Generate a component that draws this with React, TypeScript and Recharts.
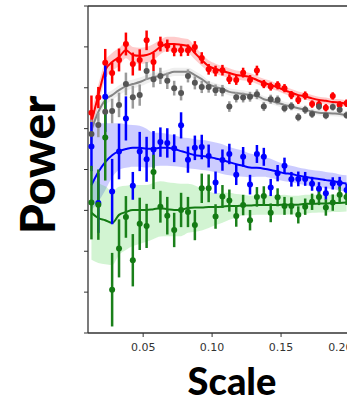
import { ComposedChart, XAxis, YAxis, Line, Area, ErrorBar, ReferenceLine } from "recharts";

const SCALES = [
  0.0125, 0.0175, 0.0225, 0.0275, 0.0325, 0.0375, 0.0425, 0.0475, 0.0525, 0.0575,
  0.0625, 0.0675, 0.0725, 0.0775, 0.0825, 0.0875, 0.0925, 0.0975, 0.1025, 0.1075,
  0.1125, 0.1175, 0.1225, 0.1275, 0.1325, 0.1375, 0.1425, 0.1475, 0.1525, 0.1575,
  0.1625, 0.1675, 0.1725, 0.1775, 0.1825, 0.1875, 0.1925, 0.1975,
];
const X_TICKS = [0.05, 0.1, 0.15, 0.2];
const Y_TICKS = [0, 1, 2, 3, 4, 5, 6, 7, 8];

// red
const redPts = [5.39, 5.76, 6.61, 6.36, 6.68, 7.07, 6.58, 6.68, 7.16, 6.63, 7.07, 7.03, 6.92, 6.92, 6.92, 7.0, 6.73, 6.45, 6.41, 6.43, 6.21, 6.19, 6.37, 6.19, 6.42, 6.09, 6.03, 6.06, 5.99, 5.82, 5.7, 5.81, 5.6, 5.59, 5.51, 5.8, 5.58, 5.62];
const redErr = [0.42, 0.26, 0.34, 0.26, 0.28, 0.28, 0.28, 0.26, 0.24, 0.22, 0.18, 0.15, 0.15, 0.15, 0.14, 0.14, 0.14, 0.13, 0.13, 0.13, 0.12, 0.12, 0.12, 0.12, 0.12, 0.1, 0.1, 0.1, 0.1, 0.1, 0.1, 0.1, 0.09, 0.09, 0.09, 0.09, 0.09, 0.09];
const redFit = [5.16, 5.82, 6.43, 6.63, 6.75, 6.92, 6.8, 6.78, 6.8, 6.87, 7.0, 7.07, 7.07, 7.05, 7.02, 6.85, 6.68, 6.53, 6.46, 6.41, 6.36, 6.31, 6.29, 6.26, 6.19, 6.12, 6.07, 6.01, 5.94, 5.88, 5.82, 5.79, 5.74, 5.7, 5.68, 5.65, 5.64, 5.61];
const redBand = [0.25, 0.25, 0.22, 0.22, 0.22, 0.2, 0.2, 0.2, 0.2, 0.2, 0.18, 0.18, 0.18, 0.17, 0.17, 0.16, 0.15, 0.14, 0.13, 0.12, 0.12, 0.11, 0.11, 0.1, 0.1, 0.1, 0.1, 0.09, 0.09, 0.09, 0.09, 0.08, 0.08, 0.08, 0.08, 0.08, 0.08, 0.08];

// gray
const grayPts = [4.87, 5.09, 5.41, 5.43, 5.58, 6.09, 5.77, 5.82, 6.41, 6.21, 6.29, 6.17, 5.99, 5.87, 6.29, 6.12, 6.02, 6.02, 5.94, 5.93, 5.54, 5.77, 5.76, 5.78, 5.84, 5.54, 5.72, 5.7, 5.5, 5.55, 5.28, 5.46, 5.36, 5.54, 5.32, 5.53, 5.46, 5.33];
const grayErr = [0.35, 0.3, 0.3, 0.3, 0.3, 0.28, 0.28, 0.26, 0.22, 0.2, 0.2, 0.2, 0.18, 0.18, 0.16, 0.16, 0.15, 0.14, 0.14, 0.14, 0.13, 0.13, 0.12, 0.12, 0.12, 0.11, 0.11, 0.11, 0.1, 0.1, 0.1, 0.1, 0.1, 0.09, 0.09, 0.09, 0.09, 0.09];
const grayFit = [4.97, 5.41, 5.7, 5.82, 5.94, 6.04, 6.09, 6.14, 6.21, 6.26, 6.29, 6.34, 6.39, 6.39, 6.39, 6.31, 6.21, 6.09, 6.02, 5.97, 5.9, 5.87, 5.85, 5.82, 5.8, 5.72, 5.68, 5.63, 5.58, 5.54, 5.5, 5.46, 5.42, 5.39, 5.38, 5.37, 5.36, 5.33];
const grayBand = [0.15, 0.14, 0.13, 0.12, 0.12, 0.12, 0.11, 0.11, 0.11, 0.1, 0.1, 0.1, 0.1, 0.1, 0.1, 0.1, 0.1, 0.09, 0.09, 0.09, 0.09, 0.09, 0.09, 0.08, 0.08, 0.08, 0.08, 0.08, 0.08, 0.08, 0.07, 0.07, 0.07, 0.07, 0.07, 0.07, 0.07, 0.07];

// blue
const bluePts = [4.56, 3.18, 5.78, 3.46, 4.44, 5.25, 3.6, 4.44, 4.25, 4.49, 4.67, 4.65, 4.52, 5.08, 4.24, 4.53, 4.55, 4.33, 3.68, 4.23, 4.38, 3.87, 4.31, 3.63, 4.38, 4.31, 3.56, 3.91, 4.09, 3.76, 3.77, 3.77, 3.65, 3.53, 3.42, 3.66, 3.67, 3.5];
const blueErr = [0.6, 0.73, 0.86, 0.8, 0.68, 0.54, 0.34, 0.48, 0.55, 0.45, 0.36, 0.36, 0.34, 0.32, 0.32, 0.3, 0.3, 0.28, 0.27, 0.26, 0.25, 0.25, 0.24, 0.24, 0.22, 0.22, 0.21, 0.2, 0.2, 0.18, 0.18, 0.17, 0.17, 0.16, 0.16, 0.15, 0.15, 0.15];
const blueFit = [3.62, 3.94, 4.18, 4.35, 4.45, 4.5, 4.53, 4.53, 4.51, 4.51, 4.53, 4.53, 4.5, 4.45, 4.4, 4.35, 4.33, 4.31, 4.27, 4.23, 4.18, 4.13, 4.09, 4.05, 4.04, 4.02, 3.99, 3.95, 3.91, 3.89, 3.85, 3.82, 3.79, 3.77, 3.74, 3.72, 3.68, 3.66];
const blueUp = [1.52, 1.2, 0.95, 0.78, 0.69, 0.61, 0.56, 0.54, 0.49, 0.39, 0.37, 0.34, 0.34, 0.34, 0.37, 0.39, 0.39, 0.39, 0.39, 0.39, 0.37, 0.37, 0.37, 0.34, 0.32, 0.29, 0.27, 0.24, 0.22, 0.2, 0.2, 0.2, 0.2, 0.2, 0.2, 0.2, 0.2, 0.2];
const blueDn = [0.61, 0.73, 0.69, 0.54, 0.46, 0.46, 0.46, 0.46, 0.46, 0.44, 0.44, 0.44, 0.42, 0.39, 0.37, 0.34, 0.34, 0.34, 0.34, 0.34, 0.32, 0.29, 0.27, 0.24, 0.22, 0.2, 0.2, 0.2, 0.2, 0.2, 0.2, 0.2, 0.2, 0.2, 0.2, 0.2, 0.2, 0.2];

// green
const greenPts = [3.19, 3.14, 4.78, 1.06, 2.07, 2.84, 1.78, 2.67, 2.62, 3.94, 3.09, 2.87, 2.52, 3.01, 2.96, 2.64, 3.54, 3.54, 2.85, 3.34, 3.24, 2.86, 3.13, 2.76, 3.33, 3.35, 2.94, 3.32, 3.11, 3.11, 2.89, 3.09, 3.21, 3.33, 3.07, 3.19, 3.38, 3.33];
const greenErr = [0.9, 0.86, 1.05, 0.9, 0.71, 0.51, 0.64, 0.64, 0.54, 0.42, 0.39, 0.46, 0.42, 0.42, 0.37, 0.37, 0.36, 0.34, 0.3, 0.28, 0.27, 0.26, 0.25, 0.25, 0.24, 0.24, 0.23, 0.22, 0.22, 0.21, 0.21, 0.2, 0.2, 0.2, 0.2, 0.2, 0.2, 0.2];
const greenFit = [2.94, 2.81, 2.76, 2.69, 2.89, 2.96, 3.01, 3.01, 3.01, 3.03, 3.05, 3.03, 3.01, 3.01, 3.06, 3.07, 3.07, 3.08, 3.08, 3.09, 3.11, 3.11, 3.12, 3.12, 3.13, 3.13, 3.13, 3.13, 3.14, 3.14, 3.14, 3.16, 3.16, 3.17, 3.17, 3.18, 3.18, 3.19];
const greenUp = [0.88, 0.86, 0.83, 0.78, 0.69, 0.64, 0.61, 0.61, 0.61, 0.64, 0.66, 0.66, 0.66, 0.64, 0.59, 0.54, 0.46, 0.39, 0.34, 0.34, 0.32, 0.29, 0.27, 0.24, 0.24, 0.24, 0.24, 0.24, 0.24, 0.22, 0.22, 0.22, 0.22, 0.22, 0.22, 0.2, 0.2, 0.2];
const greenDn = [1.15, 1.1, 1.08, 1.03, 0.98, 0.93, 0.88, 0.83, 0.78, 0.73, 0.69, 0.66, 0.64, 0.64, 0.61, 0.59, 0.56, 0.51, 0.44, 0.39, 0.34, 0.29, 0.24, 0.24, 0.24, 0.24, 0.24, 0.24, 0.24, 0.24, 0.24, 0.24, 0.22, 0.22, 0.22, 0.22, 0.22, 0.22];

const SERIES = [
  { key: "red", pts: redPts, err: redErr, fit: redFit, up: redBand, dn: redBand, line: "#ff0000", dot: "#ff0000", bar: "#ff0000", band: "#ff0000", op: 0.2 },
  { key: "gray", pts: grayPts, err: grayErr, fit: grayFit, up: grayBand, dn: grayBand, line: "#858585", dot: "#555555", bar: "#9a9a9a", band: "#b0b0b0", op: 0.2 },
  { key: "blue", pts: bluePts, err: blueErr, fit: blueFit, up: blueUp, dn: blueDn, line: "#0000ff", dot: "#0000ff", bar: "#0000ff", band: "#0000ff", op: 0.2 },
  { key: "green", pts: greenPts, err: greenErr, fit: greenFit, up: greenUp, dn: greenDn, line: "#137a13", dot: "#137a13", bar: "#1a801a", band: "#33cc33", op: 0.22 },
];

const rows = SCALES.map((x, i) => {
  const r: any = { x };
  SERIES.forEach((s) => {
    r[s.key] = s.pts[i];
    r[s.key + "Err"] = s.err[i];
    r[s.key + "Fit"] = s.fit[i];
    r[s.key + "Band"] = [s.fit[i] - s.dn[i], s.fit[i] + s.up[i]];
  });
  return r;
});

const AXIS = "#333";

export default function App() {
  return (
    <div style={{ position: "absolute", left: 0, top: 0, width: 352, height: 402, background: "#fff" }}>
      {/* the source figure is cropped just past x = 0.20, so clip the chart there */}
      <div style={{ position: "absolute", left: 0, top: 0, width: 347, height: 402, overflow: "hidden" }}>
        <ComposedChart width={350} height={402} data={rows} margin={{ top: 6, right: 0, left: 0, bottom: 39 }}>
          <XAxis
            dataKey="x" type="number" domain={[0.01, 0.2]} allowDataOverflow ticks={X_TICKS}
            tickFormatter={(v: number) => v.toFixed(2)} tickSize={4} tickMargin={6} height={30}
            axisLine={{ stroke: AXIS, strokeWidth: 1.3 }} tickLine={{ stroke: AXIS }}
            tick={{ fontSize: 11, fill: "#333", fontFamily: "DejaVu Sans" }}
          />
          <YAxis
            type="number" domain={[0, 8]} allowDataOverflow ticks={Y_TICKS} width={88}
            tickFormatter={() => ""} tickSize={4} axisLine={{ stroke: AXIS, strokeWidth: 1.3 }} tickLine={{ stroke: AXIS }}
          />
          <ReferenceLine y={8} stroke={AXIS} strokeWidth={1.3} />
          {SERIES.map((s) => (
            <Area key={s.key + "b"} dataKey={s.key + "Band"} type="monotone" stroke="none" fill={s.band} fillOpacity={s.op} activeDot={false} isAnimationActive={false} />
          ))}
          {SERIES.map((s) => (
            <Line key={s.key + "f"} dataKey={s.key + "Fit"} type="monotone" stroke={s.line} strokeWidth={2} dot={false} activeDot={false} isAnimationActive={false} />
          ))}
          {SERIES.map((s) => (
            <Line key={s.key + "p"} dataKey={s.key} stroke="none" strokeWidth={0} dot={{ r: 3, fill: s.dot, stroke: "none" }} activeDot={false} isAnimationActive={false}>
              <ErrorBar dataKey={s.key + "Err"} direction="y" width={0} stroke={s.bar} strokeWidth={2.5} />
            </Line>
          ))}
        </ComposedChart>
      </div>
      <svg width={352} height={402} style={{ position: "absolute", left: 0, top: 0, pointerEvents: "none" }}>
        <text transform="translate(55,165) rotate(-90)" textAnchor="middle" fontFamily="Lato" fontWeight={900} fontSize={48} fill="#000">Power</text>
        <text x={232} y={395} textAnchor="middle" fontFamily="Lato" fontWeight={900} fontSize={38} fill="#000">Scale</text>
      </svg>
    </div>
  );
}
